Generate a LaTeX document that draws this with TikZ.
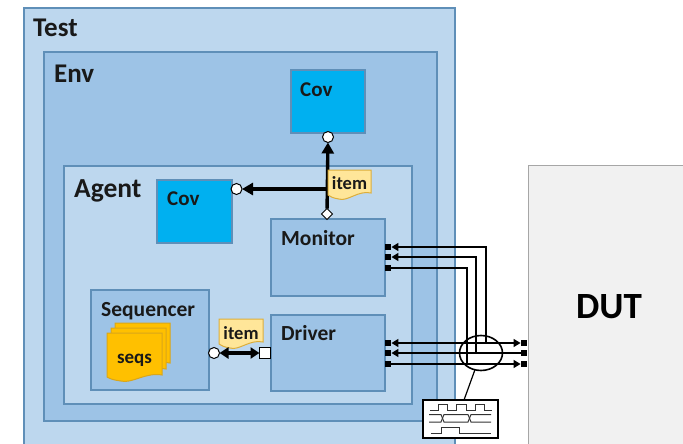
\documentclass[tikz,border=0pt]{standalone}
\usepackage{fontspec}
\setmainfont{Carlito}
\usetikzlibrary{arrows.meta,shapes.geometric}
\definecolor{lightblue}{HTML}{BDD7EE}
\definecolor{midblue}{HTML}{9DC3E6}
\definecolor{edgeblue}{HTML}{5F8FB8}
\definecolor{covblue}{HTML}{00B0F0}
\definecolor{noteyellow}{HTML}{FFE699}
\definecolor{noteedge}{HTML}{DDAE3A}
\definecolor{seqgold}{HTML}{FFC000}
\definecolor{seqedge}{HTML}{D9A61A}
\definecolor{dutgray}{HTML}{F1F1F1}
\definecolor{dutedge}{HTML}{A6A6A6}
\newcommand{\fs}[1]{\fontsize{#1}{#1}\selectfont\bfseries}
\tikzset{
  blk/.style={draw=edgeblue,line width=1.2pt,anchor=north west,inner sep=0pt,outer sep=0pt},
  lightblk/.style={blk,fill=lightblue},
  midblk/.style={blk,fill=midblue},
  covblk/.style={blk,fill=covblue},
  lbl/.style={anchor=base west,inner sep=0pt,text=black!90},
  pin/.style={fill=black,inner sep=0pt,minimum size=6.5pt,rectangle},
  thick arrow/.style={line width=3.4pt,-{Triangle[length=11pt,width=12pt]}},
  thick both/.style={line width=3.4pt,{Triangle[length=9pt,width=11pt]}-{Triangle[length=9pt,width=11pt]}},
  sig/.style={line width=1.3pt,black},
  sigleft/.style={sig,{Triangle[length=7pt,width=8pt]}-},
  sigright/.style={sig,-{Triangle[length=7pt,width=8pt]}},
  sigboth/.style={sig,{Triangle[length=7pt,width=8pt]}-{Triangle[length=7pt,width=8pt]}},
  opin/.style={circle,draw=black,fill=white,line width=1pt,minimum size=11pt,inner sep=0pt,outer sep=0pt},
  note/.style={draw=noteedge,fill=noteyellow,line width=1pt},
  seqnote/.style={draw=seqedge,fill=seqgold,line width=1pt},
}
% #1 style, #2 x left, #3 y top, #4 x right, #5 y bottom
\newcommand{\paper}[5]{%
  \path[#1] (#2,#3) -- (#4,#3) -- (#4,#5-5)
    .. controls ({#4-(#4-#2)*0.3},#5-8) and ({#4-(#4-#2)*0.55},#5+4) .. ({#2+(#4-#2)*0.25},#5+1)
    .. controls ({#2+(#4-#2)*0.12},#5) and ({#2+(#4-#2)*0.06},#5-1) .. (#2,#5-3) -- cycle;}
\begin{document}
\begin{tikzpicture}[x=1pt,y=-1pt]
\useasboundingbox (0,0) rectangle (683,444);
\clip (0,0) rectangle (683,444);
\fill[white] (0,0) rectangle (683,444);
% containers
\node[lightblk,minimum width=431pt,minimum height=460pt] (test) at (24,8) {};
\node[midblk,minimum width=393pt,minimum height=369pt] (env) at (44,52) {};
\node[lightblk,minimum width=348pt,minimum height=238pt] (agent) at (64,166) {};
\node[draw=dutedge,fill=dutgray,line width=1pt,anchor=north west,inner sep=0pt,outer sep=0pt,minimum width=170pt,minimum height=300pt] (dut) at (528,165) {};
% inner blocks
\node[covblk,minimum width=74pt,minimum height=63pt] (covtop) at (291,70) {};
\node[covblk,minimum width=75pt,minimum height=63pt] (covleft) at (157,180) {};
\node[midblk,minimum width=114pt,minimum height=77pt] (monitor) at (271,219) {};
\node[midblk,minimum width=114pt,minimum height=76pt] (driver) at (271,315) {};
\node[midblk,minimum width=118pt,minimum height=100pt] (sequencer) at (91,290) {};
% labels
\node[lbl] (ltest) at (33,37) {\fs{27}Test};
\node[lbl] (lenv) at (54,83) {\fs{27}Env};
\node[lbl] (lagent) at (74,197) {\fs{27.5}Agent};
\node[lbl] (lcovt) at (300,96) {\fs{21}Cov};
\node[lbl] (lcovl) at (167,205) {\fs{21}Cov};
\node[lbl] (lmon) at (281,245) {\fs{21.5}Monitor};
\node[lbl] (ldrv) at (281,340) {\fs{21.5}Driver};
\node[lbl] (lseq) at (101,316) {\fs{21.5}Sequencer};
\node[anchor=base,inner sep=0pt] (ldut) at (609,318) {\fs{37}DUT};
% seqs stack
\paper{seqnote}{115}{323}{170}{368}
\paper{seqnote}{111}{328}{166}{374}
\paper{seqnote}{107}{333}{162}{380}
\node[lbl,anchor=base] (lseqs) at (134.5,363) {\fs{19}seqs};
% monitor analysis
\node[diamond,draw=black,fill=white,line width=0.8pt,minimum size=11pt,inner sep=0pt,outer sep=0pt] (dia) at (327,214) {};
\node[opin] (ctop) at (328,137) {};
\node[opin] (cleft) at (236.5,189) {};
\coordinate (junction) at (327,189);
\draw[thick arrow] (dia) -- (ctop);
\draw[thick arrow] (junction) -- (cleft);
\paper{note}{328}{170}{371}{198}
\node[lbl,anchor=base] (litem1) at (349.5,189) {\fs{18.5}item};
% sequencer-driver
\paper{note}{219}{319}{263}{347}
\node[lbl,anchor=base] (litem2) at (241,339) {\fs{18.5}item};
\node[opin] (seqport) at (214,353) {};
\node[draw=black,fill=white,line width=1pt,rectangle,minimum size=11pt,inner sep=0pt,outer sep=0pt] (drvport) at (265,353) {};
\draw[thick both] (seqport) -- (drvport);
% pins
\node[pin] (m1) at (388,247) {};
\node[pin] (m2) at (388,257) {};
\node[pin] (m3) at (388,268) {};
\node[pin] (d1) at (388,343) {};
\node[pin] (d2) at (388,353) {};
\node[pin] (d3) at (388,364) {};
\node[pin] (r1) at (524,343) {};
\node[pin] (r2) at (524,353) {};
\node[pin] (r3) at (524,364) {};
% signals
\draw[sigleft] (m1.east) -- (486,247) -- (486,343);
\draw[sigleft] (m2.east) -- (476,257) -- (476,353);
\draw[sig] (m3.east) -- (467,268) -- (467,364);
\draw[sigboth] (d1.east) -- (r1.west);
\draw[sigleft] (d2.east) -- (r2.west);
\draw[sigright] (d3.east) -- (r3.west);
% probe
\node[ellipse,draw=black,line width=1.6pt,minimum width=43pt,minimum height=35pt,inner sep=0pt,outer sep=0pt] (probe) at (481,353) {};
\node[draw=black,fill=white,line width=1.2pt,anchor=north west,inner sep=0pt,outer sep=0pt,minimum width=75pt,minimum height=38pt] (wave) at (423,400) {};
\coordinate (wavetap) at (464,400);
\draw[line width=1.2pt] (probe) -- (wavetap);
% waveform
\draw[line width=1pt,black!80] (430,410) -- (438,410) -- (438,404) -- (447,404) -- (447,410) -- (456,410) -- (456,404) -- (466,404) -- (466,410) -- (475,410) -- (475,404) -- (484,404) -- (484,410) -- (492,410);
\draw[line width=1pt,black!80] (429,414.5) -- (441,414.5) -- (444,422) -- (468,422) -- (471,414.5) -- (491,414.5);
\draw[line width=1pt,black!80] (429,422) -- (441,422) -- (444,414.5) -- (468,414.5) -- (471,422) -- (491,422);
\draw[line width=1pt,black!80] (431,433) -- (441,433) -- (441,427) -- (459,427) -- (459,433) -- (491,433);
\end{tikzpicture}
\end{document}
